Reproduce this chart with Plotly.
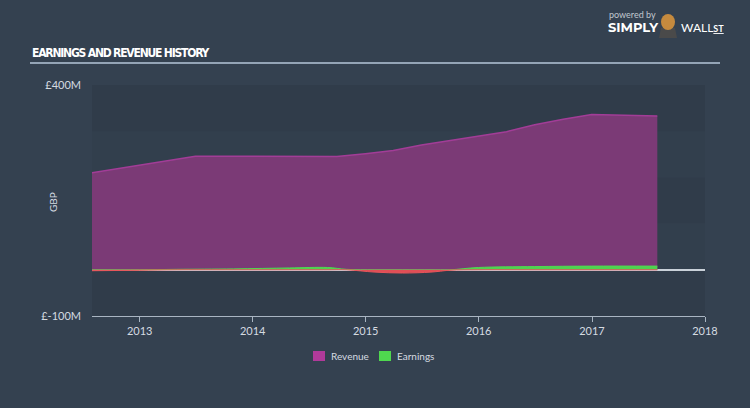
import plotly.graph_objects as go
import numpy as np

# ---- data ----
rev_dates = ['2012-07-31', '2012-12-31', '2013-06-30', '2013-12-31', '2014-06-30',
             '2014-09-30', '2014-12-31', '2015-03-31', '2015-06-30', '2015-09-30',
             '2015-12-31', '2016-03-31', '2016-06-30', '2016-09-30', '2016-12-31',
             '2017-07-31']
revenue = [210, 226, 246, 246, 245, 245, 251, 258, 270, 280, 290, 299, 314, 326, 336, 333]

earn_dates = ['2012-07-31', '2012-12-31', '2013-04-30', '2013-10-31', '2014-04-30',
              '2014-08-31', '2014-10-31', '2015-01-31', '2015-04-30', '2015-07-31',
              '2015-09-30', '2015-12-31', '2016-06-30', '2016-12-31', '2017-07-31']
earnings = [-2, -1, 1, 2, 4, 5, 1, -5, -7, -5, -1, 5, 7, 8, 8]

y_ticks = [-100, 400]
y_tick_labels = ['£-100M', '£400M']

legend_names = ['Revenue', 'Earnings']
legend_colors = ['#b03a9a', '#4fd84f']

PAPER = '#344150'
earn = np.array(earnings, dtype=float)

PW, PH, L, T = 613, 231, 92, 85


def px(xp):
    return (xp - L) / PW


def py(yp):
    return 1 + (T - yp) / PH


fig = go.Figure()

# alternating bands
for lo, hi, c in [(300, 400, '#303c4a'), (200, 300, '#323f4d'), (100, 200, '#303c4a'),
                  (0, 100, '#323f4d'), (-100, 0, '#303c4a')]:
    fig.add_shape(type='rect', xref='paper', yref='y', x0=0, x1=1, y0=lo, y1=hi,
                  fillcolor=c, line_width=0, layer='below')

fig.add_trace(go.Scatter(x=rev_dates, y=revenue, name='Revenue', mode='lines',
                         line=dict(color='#a23d97', width=1.5),
                         fill='tozeroy', fillcolor='#7b3a76'))
fig.add_trace(go.Scatter(x=earn_dates, y=np.maximum(earn, 0), name='Earnings', mode='lines',
                         line=dict(color='#52d752', width=1, shape='spline'),
                         fill='tozeroy', fillcolor='#4fd24f'))
fig.add_trace(go.Scatter(x=earn_dates, y=np.minimum(earn, 0), name='Loss', mode='lines',
                         line=dict(color='#e8555a', width=1, shape='spline'),
                         fill='tozeroy', fillcolor='#e04e56'))

fig.update_layout(
    width=750, height=408,
    paper_bgcolor=PAPER, plot_bgcolor=PAPER,
    margin=dict(l=L, r=45, t=T, b=92),
    font=dict(family='Lato, Open Sans, sans-serif', color='#d5dbe1', size=11),
    showlegend=False,
    xaxis=dict(type='date', range=['2012-07-31', '2018-01-01'], dtick='M12',
               tick0='2013-01-01', tickformat='%Y', showgrid=False, zeroline=False,
               showline=True, linecolor='#a9b5c2', linewidth=1, ticks='outside',
               tickcolor='#a9b5c2', ticklen=5, tickfont=dict(size=11, color='#d5dbe1')),
    yaxis=dict(range=[-100, 400], tickvals=y_ticks, ticktext=y_tick_labels,
               showgrid=False, zeroline=True, zerolinecolor='#c9d1d9', zerolinewidth=1.5,
               ticks='', ticklabelstandoff=10, tickfont=dict(size=11, color='#d5dbe1')),
)

# manual legend
leg_x = [313, 379]
for name, col, lx in zip(legend_names, legend_colors, leg_x):
    fig.add_shape(type='rect', xref='paper', yref='paper', x0=px(lx), x1=px(lx + 12),
                  y0=py(361), y1=py(351), fillcolor=col, line_width=0)
    fig.add_annotation(xref='paper', yref='paper', x=px(lx + 16), y=py(356),
                       xanchor='left', yanchor='middle', showarrow=False,
                       text=name, font=dict(size=10, color='#d5dbe1'))

# y axis title
fig.add_annotation(xref='paper', yref='paper', x=px(45), y=py(202), textangle=-90,
                   showarrow=False, text='GBP', font=dict(size=10, color='#d5dbe1'))

# title and rule
fig.add_annotation(xref='paper', yref='paper', x=px(30), y=py(53),
                   xanchor='left', yanchor='middle', showarrow=False,
                   text='<b><span style="letter-spacing:-1.2px">EARNINGS AND REVENUE HISTORY</span></b>',
                   font=dict(family='DejaVu Sans Condensed, Liberation Sans Narrow, sans-serif',
                             size=12, color='#ffffff'))
fig.add_shape(type='line', xref='paper', yref='paper', x0=px(30), x1=px(720),
              y0=py(63), y1=py(63), line=dict(color='#b5c6d8', width=1.5))

# logo
fig.add_annotation(xref='paper', yref='paper', x=px(607), y=py(14),
                   xanchor='left', yanchor='middle', showarrow=False,
                   text='powered by', font=dict(size=9, color='#c0c7cf'))
fig.add_annotation(xref='paper', yref='paper', x=px(606), y=py(27),
                   xanchor='left', yanchor='middle', showarrow=False,
                   text='<b>SIMPLY</b>', font=dict(family='Montserrat, Lato, sans-serif', size=13, color='#ffffff'))
fig.add_annotation(xref='paper', yref='paper', x=px(679), y=py(27),
                   xanchor='left', yanchor='middle', showarrow=False,
                   text='WALL<u><b><span style="font-size:9px">ST</span></b></u>',
                   font=dict(family='Lato, sans-serif', size=12, color='#ffffff'))
fig.add_shape(type='path', xref='paper', yref='paper',
              path=f'M {px(659)} {py(38)} L {px(661)} {py(28)} L {px(675)} {py(28)} L {px(677)} {py(38)} Z',
              fillcolor='#4a4a4a', line_width=0)
fig.add_shape(type='circle', xref='paper', yref='paper', x0=px(661), x1=px(675),
              y0=py(30), y1=py(14), fillcolor='#c58a3e', line_width=0)

fig.write_html('out.html')
